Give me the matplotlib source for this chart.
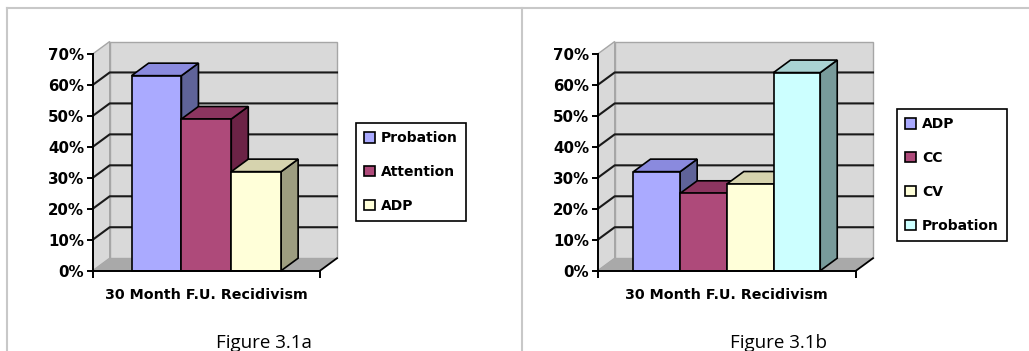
import matplotlib
matplotlib.use('Agg')
import matplotlib.pyplot as plt
from matplotlib.patches import Polygon, Rectangle
from matplotlib.lines import Line2D

# data (percent)
left_names = ['Probation', 'Attention', 'ADP']
left_values = [63, 49, 32]
right_names = ['ADP', 'CC', 'CV', 'Probation']
right_values = [32, 25, 28, 64]
pct_ticks = [0, 10, 20, 30, 40, 50, 60, 70]
xlabel = '30 Month F.U. Recidivism'

# excel-ish palette: front / top / side faces
front_cols = ['#aaaaff', '#ae4a7a', '#ffffd9', '#ccffff']
top_cols = ['#8a8ade', '#8c3560', '#d6d3ae', '#a9d3d3']
side_cols = ['#5f6399', '#6c2346', '#9d9d80', '#789a9a']

W, H = 1029, 351
fig = plt.figure(figsize=(W / 100, H / 100), dpi=100)


def px_axes(x0, x1, ytop, ybot):
    return fig.add_axes([x0 / W, 1 - ybot / H, (x1 - x0) / W, (ybot - ytop) / H])


def panel(ax, names, vals, group, leg_xy, caption, cap_x):
    pos = ax.get_position()
    dx = 17 / (pos.width * W)
    dy = 12.5 * 70 / (pos.height * H)
    ax.set_xlim(0, 1)
    ax.set_ylim(0, 70)
    ax.patch.set_visible(False)

    wall = '#d9d9d9'
    wedge = '#a6a6a6'
    # side wall, back wall, floor
    ax.add_patch(Polygon([(0, 0), (dx, dy), (dx, 70 + dy), (0, 70)], closed=True,
                         fc=wall, ec=wedge, lw=1, clip_on=False, zorder=0))
    ax.add_patch(Rectangle((dx, dy), 1, 70, fc=wall, ec=wedge, lw=1, clip_on=False, zorder=0))
    ax.add_patch(Polygon([(0, 0), (1, 0), (1 + dx, dy), (dx, dy)], closed=True,
                         fc='#a9a9a9', ec='none', clip_on=False, zorder=0.5))
    for t in pct_ticks[1:-1]:
        ax.plot([0, dx, 1 + dx], [t, t + dy, t + dy], color='#1a1a1a', lw=1.5,
                clip_on=False, zorder=1)
    ax.plot([1, 1 + dx], [0, dy], color='k', lw=1.3, clip_on=False, zorder=1)

    n = len(vals)
    w = group / n
    xs = [(1 - group) / 2 + i * w for i in range(n)]
    bars = ax.bar(xs, vals, width=w, align='edge', color=front_cols[:n],
                  edgecolor='k', lw=1.2, clip_on=False)
    for i, (x, v) in enumerate(zip(xs, vals)):
        bars[i].set_zorder(3 + 2 * i)
        ax.add_patch(Polygon([(x + w, 0), (x + w + dx, dy), (x + w + dx, v + dy), (x + w, v)],
                             closed=True, fc=side_cols[i], ec='k', lw=1.2,
                             clip_on=False, zorder=2 + 2 * i))
        ax.add_patch(Polygon([(x, v), (x + w, v), (x + w + dx, v + dy), (x + dx, v + dy)],
                             closed=True, fc=top_cols[i], ec='k', lw=1.2,
                             clip_on=False, zorder=2 + 2 * i))

    for s in ['top', 'right']:
        ax.spines[s].set_visible(False)
    for s in ['left', 'bottom']:
        ax.spines[s].set_linewidth(1.4)
        ax.spines[s].set_zorder(20)
    ax.set_yticks(pct_ticks)
    ax.set_yticklabels(['%d%%' % t for t in pct_ticks], fontweight='bold', fontsize=10.8)
    ax.set_xticks([0, 1])
    ax.set_xticklabels([])
    ax.tick_params(axis='y', direction='out', length=4, width=1.4, pad=2)
    ax.tick_params(axis='x', direction='out', length=5, width=1.4)
    ax.set_xlabel(xlabel, fontweight='bold', fontsize=10.3, labelpad=4)

    leg = ax.legend(bars, names, loc='upper left', bbox_to_anchor=(leg_xy[0] / W, 1 - leg_xy[1] / H),
                    bbox_transform=fig.transFigure, borderaxespad=0, fancybox=False,
                    edgecolor='k', framealpha=1, prop={'weight': 'bold', 'size': 10},
                    handlelength=0.75, handleheight=0.75, handletextpad=0.45,
                    labelspacing=1.42, borderpad=0.6)
    leg.get_frame().set_linewidth(1.2)

    fig.text(cap_x / W, 1 - 343 / H, caption, ha='center', va='center',
             fontsize=13.5, family='Open Sans')


ax1 = px_axes(92.7, 320, 54, 270.7)
panel(ax1, left_names, left_values, 0.658, (356, 123), 'Figure 3.1a', 264)
ax2 = px_axes(597.7, 856, 54, 270.7)
panel(ax2, right_names, right_values, 0.723, (897, 109), 'Figure 3.1b', 779)

# page frame lines
frame = '#c8c8c8'
fig.add_artist(Line2D([7 / W, 1028 / W], [1 - 8 / H, 1 - 8 / H], transform=fig.transFigure, color=frame, lw=1.5))
fig.add_artist(Line2D([7 / W, 7 / W], [0, 1 - 8 / H], transform=fig.transFigure, color=frame, lw=1.5))
fig.add_artist(Line2D([522 / W, 522 / W], [0, 1 - 8 / H], transform=fig.transFigure, color=frame, lw=1.5))

fig.savefig('out.png', dpi=100)
